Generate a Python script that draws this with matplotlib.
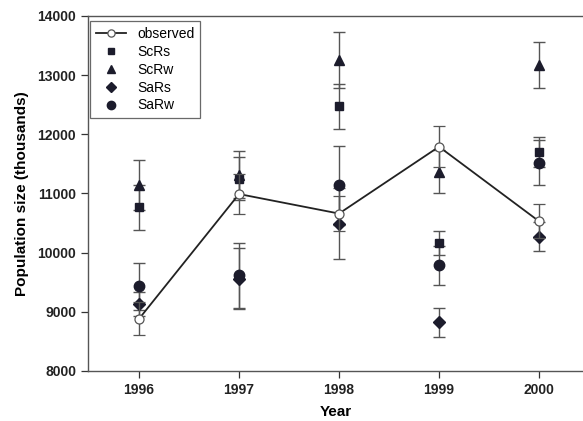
import numpy as np
import matplotlib
matplotlib.use("Agg")
import matplotlib.pyplot as plt

plt.rcParams['font.family'] = ['Liberation Sans', 'DejaVu Sans']

years = [1996, 1997, 1998, 1999, 2000]

observed = [8880, 10990, 10660, 11790, 10530]
observed_err = [280, 340, 300, 350, 290]

scrs = [10770, 11250, 12470, 10160, 11700]
scrs_err = [380, 360, 380, 200, 250]

scrw = [11140, 11320, 13260, 11370, 13170]
scrw_err = [420, 400, 470, 360, 390]

sars = [9130, 9560, 10490, 8820, 10270]
sars_err = [200, 520, 600, 245, 245]

sarw = [9430, 9620, 11140, 9790, 11520]
sarw_err = [400, 550, 670, 330, 380]

mark_col = '#1c1c2c'
err_col = '#555555'

fig = plt.figure(figsize=(5.83, 4.21), dpi=100)
ax = fig.add_axes([0.151, 0.119, 0.849, 0.843])

err_kw = dict(ecolor=err_col, elinewidth=1.0, capsize=4, capthick=1.0, linestyle='none')

series = [
    (scrs, scrs_err, 's', 'ScRs', 6),
    (scrw, scrw_err, '^', 'ScRw', 7),
    (sars, sars_err, 'D', 'SaRs', 6),
    (sarw, sarw_err, 'o', 'SaRw', 7.5),
]
handles = []
for vals, err, mk, lab, ms in series:
    h = ax.errorbar(years, vals, yerr=err, marker=mk, markersize=ms, color=mark_col,
                    mec=mark_col, label=lab, zorder=3, **err_kw)
    handles.append(h)

ho = ax.errorbar(years, observed, yerr=observed_err, marker='o', markersize=6.5,
                 color='#222222', mfc='white', mec='#555555', mew=0.9, lw=1.3,
                 ecolor=err_col, elinewidth=1.0, capsize=4, capthick=1.0,
                 label='observed', zorder=4)

leg = ax.legend([ho.lines[0]] + [h.lines[0] for h in handles],
                ['observed', 'ScRs', 'ScRw', 'SaRs', 'SaRw'],
                loc='upper left', bbox_to_anchor=(0.004, 0.985), borderaxespad=0,
                fontsize=10, frameon=True, fancybox=False, edgecolor='#444444',
                handlelength=2.2, borderpad=0.4, labelspacing=0.28,
                handletextpad=0.8, markerscale=0.8)
leg.get_frame().set_linewidth(0.9)

ax.set_xlim(1995.49, 2000.44)
ax.set_ylim(8000, 14000)
ax.set_xticks(years)
ax.set_yticks(np.arange(8000, 14001, 1000))
ax.tick_params(axis='both', direction='out', length=5, width=0.9, labelsize=10,
               colors='#333333', labelcolor='#222222')
for lbl in ax.get_xticklabels() + ax.get_yticklabels():
    lbl.set_fontweight('bold')

ax.spines['right'].set_visible(False)
for s in ['left', 'bottom', 'top']:
    ax.spines[s].set_color('#555555')
    ax.spines[s].set_linewidth(1.0)

ax.set_xlabel('Year', fontsize=11, fontweight='bold', labelpad=6)
ax.set_ylabel('Population size (thousands)', fontsize=11, fontweight='bold', labelpad=6)

fig.savefig('out.png', dpi=100)
